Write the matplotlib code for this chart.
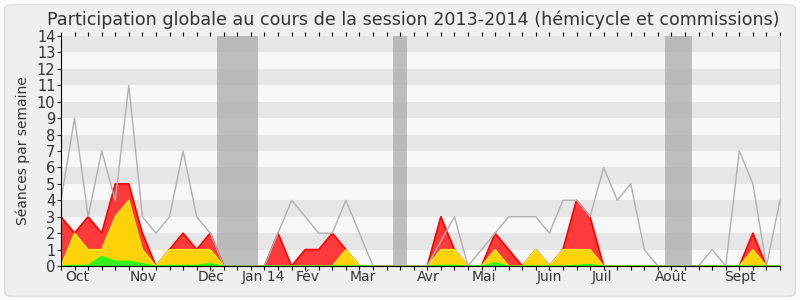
import matplotlib
matplotlib.use("Agg")
import matplotlib.pyplot as plt
from matplotlib.patches import FancyBboxPatch
import numpy as np

title = "Participation globale au cours de la session 2013-2014 (hémicycle et commissions)"
ylabel = "Séances par semaine"

weeks = list(range(54))
median_line = [4, 9, 3, 7, 4, 11, 3, 2, 3, 7, 3, 2, 0, 0, 0, 0, 2, 4, 3, 2,
               2, 4, 2, 0, 0, 0, 0, 0, 1.5, 3, 0, 1, 2, 3, 3, 3, 2, 4, 4, 3,
               6, 4, 5, 1, 0, 0, 0, 0, 1, 0, 7, 5, 0, 4]
presence = [3, 2, 3, 2, 5, 5, 2, 0, 1, 2, 1, 2, 0, 0, 0, 0, 2, 0, 1, 1,
            2, 1, 0, 0, 0, 0, 0, 0, 3, 1, 0, 0, 2, 1, 0, 1, 0, 1, 4, 3,
            0, 0, 0, 0, 0, 0, 0, 0, 0, 0, 0, 2, 0, 0]
commission = [0, 2, 1, 1, 3, 4, 1, 0, 1, 1, 1, 1, 0, 0, 0, 0, 0, 0, 0, 0,
              0, 1, 0, 0, 0, 0, 0, 0, 1, 1, 0, 0, 1, 0, 0, 1, 0, 1, 1, 1,
              0, 0, 0, 0, 0, 0, 0, 0, 0, 0, 0, 1, 0, 0]
interventions = [0, 0.05, 0.05, 0.6, 0.3, 0.3, 0.15, 0, 0.05, 0.05, 0.05, 0.15, 0, 0, 0, 0, 0, 0, 0, 0,
                 0, 0, 0, 0, 0, 0, 0, 0, 0.05, 0.05, 0, 0, 0.2, 0, 0, 0, 0, 0, 0.05, 0.1,
                 0, 0, 0, 0, 0, 0, 0, 0, 0, 0, 0, 0, 0, 0]
vacations = [(11.5, 14.5), (24.5, 25.5), (44.5, 46.5)]
month_labels = ["Oct", "Nov", "Déc", "Jan 14", "Fév", "Mar", "Avr", "Mai", "Juin", "Juil", "Août", "Sept"]
month_pos = [0.3, 5.03, 10.05, 13.3, 17.3, 21.25, 26.2, 30.3, 35.1, 39.1, 43.8, 48.9]

fig = plt.figure(figsize=(8, 3), dpi=100)
fig.patch.set_facecolor("#fbfbfb")
bg = FancyBboxPatch((0.006, 0.012), 0.988, 0.972, boxstyle="round,pad=0,rounding_size=0.012",
                    transform=fig.transFigure, facecolor="#efefef", edgecolor="#dddddd",
                    linewidth=1, zorder=-10)
fig.patches.append(bg)

ax = fig.add_axes([0.07625, 0.1133, 0.89875, 0.7667])
ax.set_facecolor("#f8f8f8")
for k in range(1, 14, 2):
    ax.axhspan(k, k + 1, color="#e6e6e6", lw=0, zorder=0)
for a, b in vacations:
    ax.axvspan(a, b, color="#a8a8a8", alpha=0.72, lw=0, zorder=1)

x = np.array(weeks)
ax.fill_between(x, 0, presence, facecolor="#ff3a3a", lw=0, zorder=2)
ax.plot(x, presence, color="#ff0000", lw=1.2, zorder=2.1)
ax.fill_between(x, 0, commission, facecolor="#ffd20a", lw=0, zorder=3)
ax.plot(x, commission, color="#ffe81a", lw=1.0, zorder=3.1)
ax.fill_between(x, 0, interventions, facecolor="#33ee22", lw=0, zorder=4)
ax.plot(x, interventions, color="#22ff00", lw=0.8, zorder=4.1)
ax.plot(x, median_line, color="#b0b0b0", lw=1.0, zorder=5)

ax.set_xlim(0, 53)
ax.set_ylim(0, 14)
ax.set_yticks(range(15))
ax.tick_params(axis="y", labelsize=10.5, length=3, width=0.8, pad=1, colors="#333333")
ax.set_xticks(weeks)
ax.set_xticklabels([])
ax.tick_params(axis="x", which="major", length=3, width=0.8, top=True, direction="out")
ax.set_xticks(month_pos, minor=True)
ax.set_xticklabels(month_labels, minor=True, ha="left", fontsize=10, color="#333333")
ax.tick_params(axis="x", which="minor", length=0, pad=3)

ax.spines["top"].set_visible(False)
ax.spines["right"].set_color("#cccccc")
for s in ["left", "bottom"]:
    ax.spines[s].set_color("#000000")
    ax.spines[s].set_zorder(10)

ax.set_ylabel(ylabel, fontsize=10, color="#333333", labelpad=5)
fig.text(0.516, 0.935, title, ha="center", va="center", fontsize=12.6, color="#333333")

fig.savefig("out.png", dpi=100, facecolor=fig.get_facecolor())
